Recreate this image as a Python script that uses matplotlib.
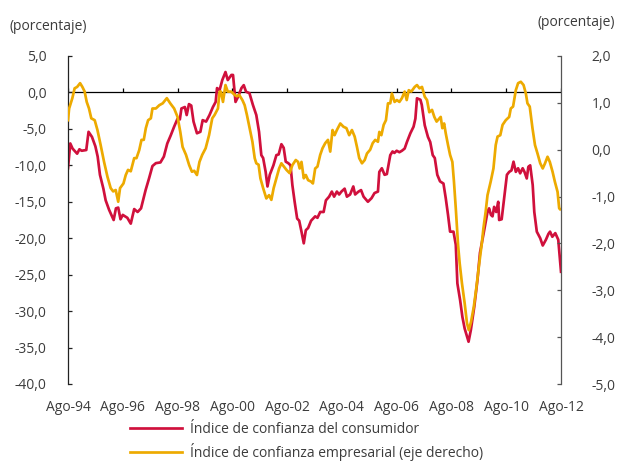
import matplotlib
matplotlib.use('Agg')
import matplotlib.pyplot as plt
from matplotlib.lines import Line2D

plt.rcParams['font.family'] = ['Open Sans', 'DejaVu Sans']

# months counted from Ago-94
consumo_meses = [0, 1, 2, 4, 5, 6, 8, 9, 10.5, 12, 13, 14, 15.5, 16.5, 18, 20, 21, 22, 23, 24,
                 26, 27.5, 29, 30.5, 32, 34, 35.5, 37, 38.5, 40.5, 42, 43.5, 45, 46.5, 48, 49, 49.7,
                 51.2, 52, 53, 54, 55, 56.5, 58, 59, 60.5, 62, 63.5, 64.7, 65.3, 66.4, 67.6, 69, 70,
                 71.6, 72.3, 73.4, 74.5, 76, 77, 78, 79.5, 81, 82.5, 83.7, 84.7, 85.5, 86.6, 87.4,
                 88.4, 90, 91.3, 92.3, 93.5, 94.5, 95.4, 96.5, 97.5, 98.3, 99.3, 100.4, 101.3, 102.3,
                 103.3, 104.2, 105.2, 106.5, 108.3, 109.3, 110.5, 112, 113, 114.4, 115.6, 116.6,
                 117.8, 118.8, 119.8, 121.2, 122.2, 123.6, 125, 125.8, 127.3, 128.4, 129.5, 131.4,
                 133, 134.3, 135.8, 136.4, 137.5, 138.7, 139.7, 141.2, 142.2, 143, 144, 145.2, 146.3,
                 147.5, 148.5, 150, 151.4, 152.2, 152.9, 154.4, 155, 156.3, 157.7, 158.7, 159.8,
                 160.7, 161.8, 163, 164.5, 165.5, 166.5, 167.4, 168.9, 169.9, 170.6, 171.8, 172.8,
                 173.8, 175.5, 176.5, 178, 179.4, 180.5, 182, 183.8, 184.5, 185.3, 186, 186.7, 187.6,
                 188.5, 188.9, 190, 191.1, 192.3, 193.3, 194.3, 195.2, 196.2, 197.2, 198.1, 199.2,
                 200, 201, 201.7, 202.5, 203.6, 204.3, 205.4, 206.9, 208, 209.4, 210.5, 211.2, 212.2,
                 213.5, 214.8, 216]
consumo = [-10.4, -7.0, -7.7, -8.4, -7.8, -8.0, -7.9, -5.4, -6.1, -7.4, -8.8, -11.3, -13.2, -14.8,
           -16.1, -17.5, -15.9, -15.8, -17.4, -16.8, -17.2, -18.0, -16.0, -16.4, -15.9, -13.4, -11.8,
           -10.1, -9.7, -9.6, -8.8, -7.0, -5.9, -4.7, -3.6, -3.7, -2.2, -2.0, -3.1, -1.6, -1.8, -4.0,
           -5.6, -5.4, -3.8, -4.0, -3.1, -2.0, -1.3, 0.6, 0.3, 1.7, 2.8, 1.7, 2.4, 2.4, -1.3, -0.6,
           0.6, 1.0, 0.1, -0.1, -1.7, -3.1, -5.4, -8.6, -9.0, -10.9, -12.9, -11.3, -10.0, -8.6, -8.5,
           -7.1, -7.6, -9.5, -9.7, -10.0, -12.7, -15.0, -17.3, -17.6, -19.1, -20.7, -18.9, -18.6,
           -17.6, -17.0, -17.2, -16.4, -16.4, -14.8, -14.3, -13.6, -14.3, -13.6, -14.0, -13.6, -13.2,
           -14.3, -14.0, -12.9, -14.0, -13.6, -13.4, -14.3, -15.0, -14.5, -13.8, -13.6, -10.9, -10.4,
           -11.3, -11.2, -8.6, -8.1, -8.3, -8.0, -8.2, -8.0, -7.7, -6.8, -5.6, -4.7, -3.6, -0.8,
           -1.0, -1.7, -4.5, -6.1, -6.8, -8.6, -9.0, -11.3, -12.2, -12.5, -14.5, -16.8, -19.1, -19.1,
           -20.9, -26.2, -28.5, -30.8, -32.4, -34.2, -32.6, -29.4, -25.7, -22.0, -19.5, -16.4, -15.9,
           -16.8, -17.0, -15.7, -16.4, -15.0, -17.5, -17.4, -14.5, -11.3, -10.9, -10.7, -9.5, -10.9,
           -10.4, -11.1, -10.4, -10.9, -11.8, -10.2, -10.0, -12.7, -16.4, -19.1, -20.0, -21.0, -20.2,
           -19.4, -19.1, -19.8, -19.3, -20.2, -24.6]

empresa_meses = [0, 0.5, 1.9, 2.9, 4, 5.3, 6.3, 7.3, 8.2, 9.2, 10.2, 11.7, 12.9, 14.3, 15.8, 17.3,
                 18.7, 19.8, 20.9, 22, 22.8, 24.3, 25.3, 26.3, 27.5, 29, 30, 31.2, 32.2, 33.2, 34.1,
                 35.1, 36.3, 37, 38.5, 40, 41.5, 43.3, 44.8, 46.5, 48, 49.2, 50.2, 51.7, 53.1, 54.3,
                 55.3, 56.5, 57.6, 58.8, 60.3, 61.8, 63.2, 64.2, 65.7, 66.4, 67, 67.9, 69, 70, 71.5,
                 73, 74, 75, 76.4, 77.4, 78.4, 79.6, 80.8, 81.8, 82.5, 83.5, 84.3, 85.5, 86.9, 88.1,
                 89.1, 90.1, 91.3, 92.5, 93.5, 94.6, 95.7, 97.1, 98.3, 99.8, 100.8, 101.5, 102.3,
                 103.3, 104.2, 105.2, 106.5, 107.3, 108.3, 109.3, 110.5, 111.5, 112.7, 113.9, 114.9,
                 115.9, 116.8, 117.8, 119.3, 120.7, 122, 123.2, 124.4, 125.6, 126.6, 127.6, 128.8,
                 130, 131, 132.4, 133.5, 134.6, 135.8, 136.4, 137.3, 138.3, 139.3, 140.2, 141.2,
                 141.9, 143.1, 144.1, 145.2, 146.3, 147.5, 148.4, 149.3, 150.4, 151.9, 152.9, 154,
                 155.1, 156.3, 157.3, 158.3, 159.5, 160.5, 161.5, 163.3, 164, 164.8, 165.5, 166.5,
                 167.4, 168.4, 169.1, 169.9, 170.9, 171.6, 172.6, 173.8, 174.8, 175.6, 176.6, 177.8,
                 178.8, 180.2, 181.3, 182, 183, 183.8, 185.2, 186.4, 187.4, 188.2, 189.4, 190.4,
                 191.8, 193.3, 194, 195, 196.2, 197.2, 198.4, 199.6, 200.6, 201.3, 202.3, 203.5,
                 204.6, 205.7, 206.9, 208, 209, 210.1, 211.1, 212.3, 213.3, 214.5, 215.2, 215.6]
empresa = [0.63, 0.88, 1.10, 1.31, 1.34, 1.42, 1.34, 1.24, 1.02, 0.88, 0.67, 0.63, 0.42, 0.10,
           -0.26, -0.58, -0.82, -0.89, -0.86, -1.11, -0.82, -0.72, -0.54, -0.43, -0.46, -0.18, -0.18,
           -0.01, 0.21, 0.21, 0.46, 0.63, 0.67, 0.88, 0.88, 0.95, 0.99, 1.10, 0.99, 0.88, 0.70, 0.38,
           0.06, -0.11, -0.33, -0.47, -0.45, -0.54, -0.26, -0.11, 0.03, 0.31, 0.67, 0.74, 0.88, 1.24,
           1.24, 1.02, 1.38, 1.24, 1.24, 1.17, 1.14, 1.17, 1.06, 0.95, 0.74, 0.46, 0.17, -0.18, -0.29,
           -0.32, -0.61, -0.82, -1.04, -0.97, -1.07, -0.82, -0.61, -0.40, -0.29, -0.36, -0.43, -0.50,
           -0.33, -0.22, -0.26, -0.40, -0.26, -0.61, -0.54, -0.65, -0.68, -0.72, -0.40, -0.36, -0.11,
           0.03, 0.14, 0.21, -0.04, 0.42, 0.31, 0.42, 0.56, 0.49, 0.46, 0.31, 0.42, 0.28, 0.06, -0.18,
           -0.29, -0.22, -0.08, 0.0, 0.14, 0.21, 0.17, 0.38, 0.31, 0.53, 0.63, 0.99, 0.99, 1.20, 1.02,
           1.06, 1.02, 1.10, 1.24, 1.06, 1.27, 1.24, 1.34, 1.38, 1.31, 1.34, 1.13, 1.06, 0.80, 0.85,
           0.70, 0.60, 0.70, 0.46, 0.56, 0.35, 0.10, -0.11, -0.26, -0.68, -1.25, -2.03, -2.42, -2.85,
           -3.28, -3.70, -3.85, -3.67, -3.35, -2.99, -2.42, -2.00, -1.68, -1.32, -0.97, -0.68, -0.40,
           0.10, 0.28, 0.31, 0.53, 0.63, 0.70, 0.88, 0.92, 1.27, 1.42, 1.45, 1.38, 1.20, 0.99, 0.92,
           0.46, 0.10, -0.08, -0.29, -0.40, -0.29, -0.15, -0.26, -0.47, -0.68, -0.90, -1.25, -1.27]

etiquetas_x = ['Ago-94', 'Ago-96', 'Ago-98', 'Ago-00', 'Ago-02', 'Ago-04', 'Ago-06',
               'Ago-08', 'Ago-10', 'Ago-12']
ticks_x = [i * 24 for i in range(len(etiquetas_x))]
ticks_izq = [5, 0, -5, -10, -15, -20, -25, -30, -35, -40]
ticks_der = [2, 1, 0, -1, -2, -3, -4, -5]

ROJO = '#D0103C'
AMARILLO = '#EDAA00'
TEXTO = '#3c3c3c'

fig = plt.figure(figsize=(6.21, 4.63), dpi=100)
ax = fig.add_axes([68 / 621, 1 - 384 / 463, (561 - 68) / 621, (384 - 56) / 463])
ax2 = ax.twinx()

ax.plot(consumo_meses, consumo, color=ROJO, lw=1.95, solid_joinstyle='round')
ax2.plot(empresa_meses, empresa, color=AMARILLO, lw=1.95, solid_joinstyle='round')

# zero line with small upward tick marks
ax.axhline(0, color='black', lw=0.9, zorder=1)
ax.vlines(ticks_x, 0, 0.55, color='black', lw=0.9)

ax.set_xlim(0, 216)
ax.set_ylim(-40, 5)
ax2.set_ylim(-5, 2)

ax.set_xticks(ticks_x)
ax.set_xticklabels(etiquetas_x)
ax.tick_params(axis='x', length=0, pad=11.5, labelsize=10, labelcolor=TEXTO)

ax.set_yticks(ticks_izq)
ax.set_yticklabels([f'{v:.1f}'.replace('.', ',') for v in ticks_izq])
ax.tick_params(axis='y', direction='in', length=3, width=0.9, pad=15.5,
               labelsize=10, labelcolor=TEXTO, color='#222222')

ax2.set_yticks(ticks_der)
ax2.set_yticklabels([f'{v:.1f}'.replace('.', ',') for v in ticks_der], ha='left')
ax2.tick_params(axis='y', direction='in', length=3, width=0.9, pad=22,
                labelsize=10, labelcolor=TEXTO, color='#555555')

for a in (ax, ax2):
    a.spines['top'].set_visible(False)
    a.spines['bottom'].set_visible(False)
ax.spines['left'].set_color('#222222')
ax.spines['left'].set_linewidth(0.9)
ax2.spines['left'].set_visible(False)
ax2.spines['right'].set_color('#555555')
ax2.spines['right'].set_linewidth(0.9)
ax.spines['right'].set_visible(False)

fig.text(10 / 621, 1 - 27 / 463, '(porcentaje)', fontsize=10, color=TEXTO,
         ha='left', va='center')
fig.text(615 / 621, 1 - 23 / 463, '(porcentaje)', fontsize=10, color=TEXTO,
         ha='right', va='center')

handles = [Line2D([], [], color=ROJO, lw=1.95),
           Line2D([], [], color=AMARILLO, lw=1.95)]
fig.legend(handles, ['Índice de confianza del consumidor',
                     'Índice de confianza empresarial (eje derecho)'],
           loc='upper left', bbox_to_anchor=(130 / 621, 1 - 422 / 463),
           frameon=False, fontsize=10, labelcolor=TEXTO, handlelength=3.75,
           handletextpad=0.6, labelspacing=0.42, borderpad=0, borderaxespad=0)

fig.savefig('out.png', dpi=100)
